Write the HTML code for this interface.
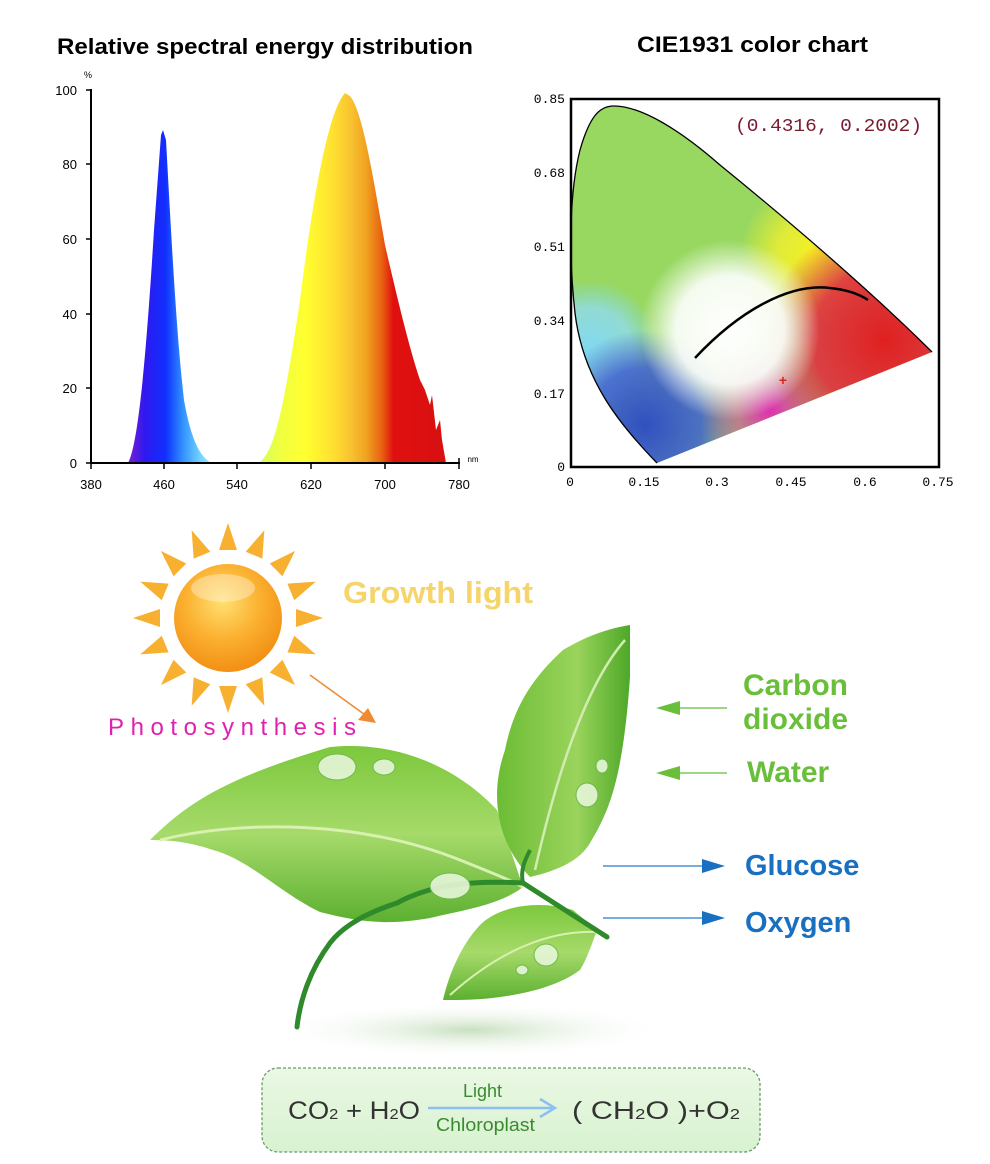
<!DOCTYPE html>
<html><head><meta charset="utf-8"><style>
html,body{margin:0;padding:0;background:#fff;}
svg{display:block;}
</style></head><body>
<svg width="990" height="1164" viewBox="0 0 990 1164" xmlns="http://www.w3.org/2000/svg" font-family="Liberation Sans, sans-serif">
<defs>
<linearGradient id="gb" x1="128" x2="212" y1="0" y2="0" gradientUnits="userSpaceOnUse">
<stop offset="0" stop-color="#7a20d0"/><stop offset="0.2" stop-color="#3018f0"/><stop offset="0.45" stop-color="#1030ff"/><stop offset="0.65" stop-color="#3090ff"/><stop offset="0.85" stop-color="#70d0ff"/><stop offset="1" stop-color="#a0f0ff"/>
</linearGradient>
<linearGradient id="gr" x1="258" x2="446" y1="0" y2="0" gradientUnits="userSpaceOnUse">
<stop offset="0" stop-color="#d0ff60"/><stop offset="0.12" stop-color="#f0ff40"/><stop offset="0.25" stop-color="#ffff30"/><stop offset="0.4" stop-color="#ffe030"/><stop offset="0.5" stop-color="#f8c030"/><stop offset="0.58" stop-color="#f0a020"/><stop offset="0.66" stop-color="#e86010"/><stop offset="0.72" stop-color="#e01010"/><stop offset="1" stop-color="#d81010"/>
</linearGradient>
<clipPath id="cie"><path d="M657,463 C620,425 583,380 575,313 C568,250 570,190 580,150 C590,115 600,107 612,106 C640,105 680,130 720,165 C800,230 880,300 932,352 Z"/></clipPath>
<radialGradient id="wh" cx="730" cy="330" r="90" gradientUnits="userSpaceOnUse"><stop offset="0" stop-color="#fff"/><stop offset="0.6" stop-color="#fff" stop-opacity="0.9"/><stop offset="1" stop-color="#fff" stop-opacity="0"/></radialGradient>
<radialGradient id="ye" cx="815" cy="255" r="75" gradientUnits="userSpaceOnUse"><stop offset="0" stop-color="#f8f020"/><stop offset="0.5" stop-color="#f0f030" stop-opacity="0.8"/><stop offset="1" stop-color="#f8f020" stop-opacity="0"/></radialGradient>
<radialGradient id="rd" cx="885" cy="340" r="120" gradientUnits="userSpaceOnUse"><stop offset="0" stop-color="#e02020"/><stop offset="0.6" stop-color="#e03040" stop-opacity="0.9"/><stop offset="1" stop-color="#e03040" stop-opacity="0"/></radialGradient>
<radialGradient id="mg" cx="770" cy="410" r="70" gradientUnits="userSpaceOnUse"><stop offset="0" stop-color="#e030b0"/><stop offset="1" stop-color="#e030b0" stop-opacity="0"/></radialGradient>
<radialGradient id="bl" cx="645" cy="425" r="95" gradientUnits="userSpaceOnUse"><stop offset="0" stop-color="#3050c0"/><stop offset="0.6" stop-color="#4060d0" stop-opacity="0.85"/><stop offset="1" stop-color="#4060d0" stop-opacity="0"/></radialGradient>
<radialGradient id="cy" cx="590" cy="350" r="70" gradientUnits="userSpaceOnUse"><stop offset="0" stop-color="#80d8f0"/><stop offset="0.6" stop-color="#90dcf0" stop-opacity="0.8"/><stop offset="1" stop-color="#80d8f0" stop-opacity="0"/></radialGradient>
<radialGradient id="sun" cx="0.45" cy="0.35" r="0.7"><stop offset="0" stop-color="#ffe070"/><stop offset="0.5" stop-color="#fbb030"/><stop offset="1" stop-color="#f08a10"/></radialGradient>
<linearGradient id="lf1" x1="0" y1="0" x2="0" y2="1"><stop offset="0" stop-color="#7cc83c"/><stop offset="0.5" stop-color="#a6da6a"/><stop offset="1" stop-color="#5cb030"/></linearGradient>
<linearGradient id="lf2" x1="0" y1="0" x2="1" y2="0"><stop offset="0" stop-color="#6cbc34"/><stop offset="0.6" stop-color="#9ad45c"/><stop offset="1" stop-color="#4ea828"/></linearGradient>
<radialGradient id="sh" cx="0.5" cy="0.5" r="0.5"><stop offset="0" stop-color="#c8e0c0"/><stop offset="1" stop-color="#fff" stop-opacity="0"/></radialGradient>
<linearGradient id="bx" x1="0" y1="0" x2="0" y2="1"><stop offset="0" stop-color="#eaf8e4"/><stop offset="1" stop-color="#d8f2d0"/></linearGradient>
</defs>

<!-- Titles -->
<text x="57" y="54" font-size="22" font-weight="bold" fill="#000" textLength="416" lengthAdjust="spacingAndGlyphs">Relative spectral energy distribution</text>
<text x="637" y="52" font-size="22" font-weight="bold" fill="#000" textLength="231" lengthAdjust="spacingAndGlyphs">CIE1931 color chart</text>

<!-- Spectrum chart -->
<path d="M128,463 C138,445 146,360 154,230 L161,135 L163,130 L166,140 C171,230 176,330 184,400 C192,445 202,458 212,463 Z" fill="url(#gb)"/>
<path d="M258,463 C275,455 285,400 300,300 C315,180 330,110 345,93 L350,96 C362,110 372,170 385,245 C400,310 410,350 420,380 L425,390 L430,405 L432,395 L436,430 L440,420 L442,440 L446,463 Z" fill="url(#gr)"/>
<g stroke="#000" stroke-width="2">
<line x1="91" y1="89" x2="91" y2="464"/>
<line x1="90" y1="463" x2="460" y2="463"/>
</g>
<g stroke="#000" stroke-width="1.5">
<line x1="86" y1="90" x2="91" y2="90"/><line x1="86" y1="164" x2="91" y2="164"/><line x1="86" y1="239" x2="91" y2="239"/><line x1="86" y1="314" x2="91" y2="314"/><line x1="86" y1="388" x2="91" y2="388"/><line x1="86" y1="463" x2="91" y2="463"/>
<line x1="91" y1="463" x2="91" y2="469"/><line x1="164" y1="463" x2="164" y2="469"/><line x1="237" y1="463" x2="237" y2="469"/><line x1="311" y1="463" x2="311" y2="469"/><line x1="385" y1="463" x2="385" y2="469"/><line x1="459" y1="458" x2="459" y2="469"/>
</g>
<g font-size="13" fill="#000" text-anchor="end">
<text x="77" y="95">100</text><text x="77" y="169">80</text><text x="77" y="244">60</text><text x="77" y="319">40</text><text x="77" y="393">20</text><text x="77" y="468">0</text>
</g>
<text x="88" y="78" font-size="9" text-anchor="middle">%</text>
<text x="473" y="462" font-size="8" text-anchor="middle">nm</text>
<g font-size="13" fill="#000" text-anchor="middle">
<text x="91" y="489">380</text><text x="164" y="489">460</text><text x="237" y="489">540</text><text x="311" y="489">620</text><text x="385" y="489">700</text><text x="459" y="489">780</text>
</g>

<!-- CIE chart -->
<g clip-path="url(#cie)">
<rect x="565" y="100" width="380" height="370" fill="#98d860"/>
<rect x="565" y="100" width="380" height="370" fill="url(#cy)"/>
<rect x="565" y="100" width="380" height="370" fill="url(#ye)"/>
<rect x="565" y="100" width="380" height="370" fill="url(#bl)"/>
<rect x="565" y="100" width="380" height="370" fill="url(#mg)"/>
<rect x="565" y="100" width="380" height="370" fill="url(#rd)"/>
<rect x="565" y="100" width="380" height="370" fill="url(#wh)"/>
</g>
<path d="M657,463 C620,425 583,380 575,313 C568,250 570,190 580,150 C590,115 600,107 612,106 C640,105 680,130 720,165 C800,230 880,300 932,352" fill="none" stroke="#000" stroke-width="1.3"/>
<path d="M695,358 C740,310 790,283 830,288 C850,290 862,296 868,300" fill="none" stroke="#000" stroke-width="2.5"/>
<text x="783" y="385" font-size="14" fill="#e02020" text-anchor="middle" font-weight="bold">+</text>
<rect x="571" y="99" width="368" height="368" fill="none" stroke="#000" stroke-width="2.5"/>
<text x="735" y="131" font-size="18" fill="#7a1a30" font-family="Liberation Mono, monospace" textLength="187" lengthAdjust="spacingAndGlyphs">(0.4316, 0.2002)</text>
<g font-size="13" fill="#000" font-family="Liberation Mono, monospace" text-anchor="end">
<text x="565" y="103">0.85</text><text x="565" y="177">0.68</text><text x="565" y="251">0.51</text><text x="565" y="325">0.34</text><text x="565" y="398">0.17</text><text x="565" y="471">0</text>
</g>
<g font-size="13" fill="#000" font-family="Liberation Mono, monospace" text-anchor="middle">
<text x="570" y="486">0</text><text x="644" y="486">0.15</text><text x="717" y="486">0.3</text><text x="791" y="486">0.45</text><text x="865" y="486">0.6</text><text x="938" y="486">0.75</text>
</g>

<!-- Sun -->
<g transform="translate(228,618)" fill="#f8b030">
<g id="rays">
<polygon points="-9,-68 9,-68 0,-95"/>
</g>
<use href="#rays" transform="rotate(22.5)"/><use href="#rays" transform="rotate(45)"/><use href="#rays" transform="rotate(67.5)"/>
<use href="#rays" transform="rotate(90)"/><use href="#rays" transform="rotate(112.5)"/><use href="#rays" transform="rotate(135)"/>
<use href="#rays" transform="rotate(157.5)"/><use href="#rays" transform="rotate(180)"/><use href="#rays" transform="rotate(202.5)"/>
<use href="#rays" transform="rotate(225)"/><use href="#rays" transform="rotate(247.5)"/><use href="#rays" transform="rotate(270)"/>
<use href="#rays" transform="rotate(292.5)"/><use href="#rays" transform="rotate(315)"/><use href="#rays" transform="rotate(337.5)"/>
<circle r="54" fill="url(#sun)"/>
<ellipse cx="-5" cy="-30" rx="32" ry="14" fill="#fff" opacity="0.35"/>
</g>
<text x="343" y="603" font-size="31" font-weight="bold" fill="#f6d46c" textLength="190" lengthAdjust="spacingAndGlyphs">Growth light</text>
<line x1="310" y1="675" x2="368" y2="717" stroke="#f08a30" stroke-width="1.5"/>
<polygon points="376,723 358,720 368,708" fill="#f08a30"/>
<text x="108" y="735" font-size="24" fill="#e020b0" textLength="248" lengthAdjust="spacing">Photosynthesis</text>

<!-- shadow -->
<ellipse cx="470" cy="1030" rx="200" ry="28" fill="url(#sh)"/>

<!-- Leaves -->
<path d="M150,840 C190,800 230,777 330,747 C400,740 460,770 497,810 L523,887 C500,905 463,910 430,918 C390,925 363,923 320,912 C280,893 250,860 213,850 C190,842 170,840 150,840 Z" fill="url(#lf1)"/>
<path d="M160,840 C240,820 360,820 460,860 C490,872 510,880 523,887" fill="none" stroke="#d8f0b0" stroke-width="3"/>
<path d="M630,625 C600,630 580,640 563,650 C530,680 513,710 505,750 C490,793 495,840 530,877 C560,870 580,860 590,843 C610,810 623,777 630,677 Z" fill="url(#lf2)"/>
<path d="M625,640 C590,680 560,760 535,870" fill="none" stroke="#d0ecb0" stroke-width="2.5"/>
<path d="M443,1000 C450,970 463,943 480,925 C500,905 540,900 573,910 L597,930 C590,950 585,962 580,970 C560,985 530,993 500,997 C480,1000 460,1000 443,1000 Z" fill="url(#lf1)"/>
<path d="M450,995 C500,950 550,930 597,932" fill="none" stroke="#d8f0b0" stroke-width="2"/>
<path d="M607,937 L523,883 C470,880 430,885 397,903 C360,915 340,930 330,943 C310,970 300,1000 297,1027" fill="none" stroke="#2e8a2a" stroke-width="5" stroke-linecap="round"/>
<path d="M523,883 C520,870 525,860 530,850" fill="none" stroke="#2e8a2a" stroke-width="4"/>
<g fill="#e6f6d8" stroke="#6cb848" stroke-width="1" opacity="0.9">
<ellipse cx="337" cy="767" rx="19" ry="13"/><ellipse cx="384" cy="767" rx="11" ry="8"/>
<ellipse cx="587" cy="795" rx="11" ry="12"/><ellipse cx="602" cy="766" rx="6" ry="7"/>
<ellipse cx="450" cy="886" rx="20" ry="13"/><ellipse cx="546" cy="955" rx="12" ry="11"/><ellipse cx="522" cy="970" rx="6" ry="5"/>
</g>

<!-- Right texts -->
<text x="743" y="695" font-size="30" font-weight="bold" fill="#6abf3a">Carbon</text>
<text x="743" y="729" font-size="30" font-weight="bold" fill="#6abf3a">dioxide</text>
<text x="747" y="782" font-size="30" font-weight="bold" fill="#6abf3a">Water</text>
<line x1="668" y1="708" x2="727" y2="708" stroke="#7cc860" stroke-width="1.5"/><polygon points="656,708 680,701 680,715" fill="#6abf3a"/>
<line x1="668" y1="773" x2="727" y2="773" stroke="#7cc860" stroke-width="1.5"/><polygon points="656,773 680,766 680,780" fill="#6abf3a"/>
<text x="745" y="875" font-size="29" font-weight="bold" fill="#1a70c0">Glucose</text>
<text x="745" y="932" font-size="29" font-weight="bold" fill="#1a70c0">Oxygen</text>
<line x1="603" y1="866" x2="712" y2="866" stroke="#4a90d0" stroke-width="1.5"/><polygon points="725,866 702,859 702,873" fill="#1a70c0"/>
<line x1="603" y1="918" x2="712" y2="918" stroke="#4a90d0" stroke-width="1.5"/><polygon points="725,918 702,911 702,925" fill="#1a70c0"/>

<!-- Equation box -->
<rect x="262" y="1068" width="498" height="84" rx="16" fill="url(#bx)" stroke="#6a9a6a" stroke-width="1.3" stroke-dasharray="3,2"/>
<text x="288" y="1119" font-size="25" fill="#333" textLength="132" lengthAdjust="spacingAndGlyphs">CO<tspan font-size="15">2</tspan> + H<tspan font-size="15">2</tspan>O</text>
<line x1="428" y1="1108" x2="552" y2="1108" stroke="#8cc0f0" stroke-width="2.5"/>
<polyline points="540,1099 555,1108 540,1117" fill="none" stroke="#8cc0f0" stroke-width="2.5"/>
<text x="463" y="1097" font-size="18" fill="#3a8a30">Light</text>
<text x="436" y="1131" font-size="18" fill="#3a8a30" textLength="99" lengthAdjust="spacingAndGlyphs">Chloroplast</text>
<text x="572" y="1119" font-size="25" fill="#333" textLength="168" lengthAdjust="spacingAndGlyphs">( CH<tspan font-size="15">2</tspan>O )+O<tspan font-size="15">2</tspan></text>
</svg>
</body></html>
